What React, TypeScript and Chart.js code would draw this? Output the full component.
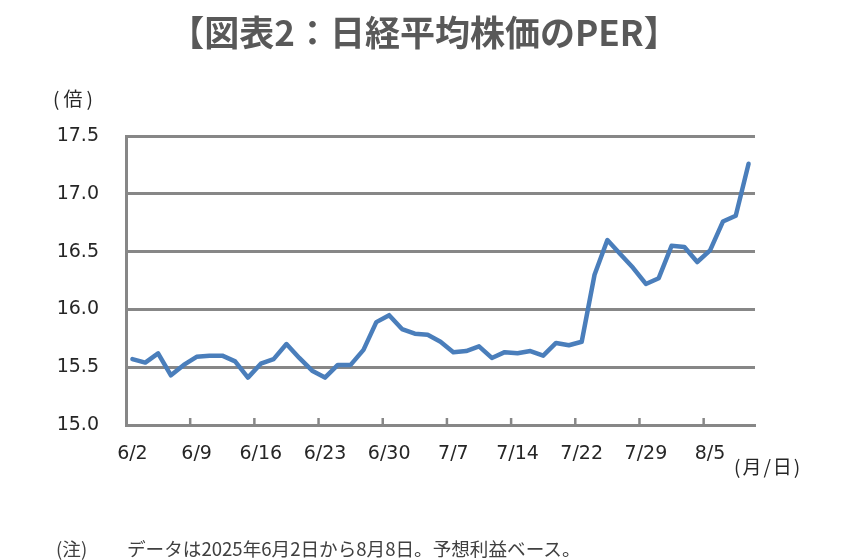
import React, { useEffect, useRef } from "react";
import { Chart, registerables } from "chart.js";

Chart.register(...registerables);

// Trading days, 2025/6/2 – 8/8 (7/21 holiday)
const dates: string[] = [
  "6/2", "6/3", "6/4", "6/5", "6/6",
  "6/9", "6/10", "6/11", "6/12", "6/13",
  "6/16", "6/17", "6/18", "6/19", "6/20",
  "6/23", "6/24", "6/25", "6/26", "6/27",
  "6/30", "7/1", "7/2", "7/3", "7/4",
  "7/7", "7/8", "7/9", "7/10", "7/11",
  "7/14", "7/15", "7/16", "7/17", "7/18",
  "7/22", "7/23", "7/24", "7/25", "7/28",
  "7/29", "7/30", "7/31", "8/1", "8/4",
  "8/5", "8/6", "8/7", "8/8",
];

// Nikkei 225 forward PER (times)
const perValues: number[] = [
  15.57, 15.54, 15.62, 15.43, 15.52,
  15.59, 15.6, 15.6, 15.55, 15.41,
  15.53, 15.57, 15.7, 15.58, 15.47,
  15.41, 15.52, 15.52, 15.65, 15.89,
  15.95, 15.83, 15.79, 15.78, 15.72,
  15.63, 15.64, 15.68, 15.58, 15.63,
  15.62, 15.64, 15.6, 15.71, 15.69,
  15.72, 16.3, 16.6, 16.48, 16.36,
  16.22, 16.27, 16.55, 16.54, 16.41,
  16.51, 16.76, 16.81, 17.26,
];

const labelEvery = 5;
const yMin = 15.0;
const yMax = 17.5;
const yStep = 0.5;

const titleText = "【図表2：日経平均株価のPER】";
const yUnit = "(倍)";
const xUnit = "(月/日)";
const noteLabel = "(注)";
const noteText = "データは2025年6月2日から8月8日。予想利益ベース。";

const GRID = "#878787";
const LINE = "#4a7ebb";
const TEXT = "#262626";
const LATIN = "'DejaVu Sans', Verdana, sans-serif";
const CJK = "'Noto Sans CJK JP', 'Noto Sans', sans-serif";

const innerTicks = {
  id: "innerTicks",
  beforeDatasetsDraw(chart: any) {
    const xs = chart.scales.x;
    const ys = chart.scales.y;
    const ctx = chart.ctx;
    const step = xs.getPixelForValue(1) - xs.getPixelForValue(0);
    ctx.save();
    ctx.strokeStyle = GRID;
    ctx.lineWidth = 2.5;
    for (let i = labelEvery; i < dates.length; i += labelEvery) {
      const x = xs.getPixelForValue(i) - step / 2;
      ctx.beginPath();
      ctx.moveTo(x, ys.bottom);
      ctx.lineTo(x, ys.bottom - 7);
      ctx.stroke();
    }
    ctx.restore();
  },
};

export default function App() {
  const ref = useRef<HTMLCanvasElement | null>(null);

  useEffect(() => {
    if (!ref.current) return;
    const chart = new Chart(ref.current, {
      type: "line",
      data: {
        labels: dates,
        datasets: [
          {
            data: perValues,
            borderColor: LINE,
            borderWidth: 4.5,
            pointRadius: 0,
            tension: 0,
            borderJoinStyle: "round",
            borderCapStyle: "round",
            fill: false,
          },
        ],
      },
      options: {
        responsive: false,
        animation: false,
        layout: { padding: { left: 0, right: 89, top: 136, bottom: 85 } },
        plugins: {
          legend: { display: false },
          tooltip: { enabled: false },
          title: { display: false },
        },
        scales: {
          x: {
            type: "category",
            offset: true,
            grid: { display: true, offset: true, drawOnChartArea: false, drawTicks: false },
            border: { display: true, color: GRID, width: 3 },
            ticks: {
              autoSkip: false,
              maxRotation: 0,
              minRotation: 0,
              padding: 18,
              color: TEXT,
              font: { family: LATIN, size: 19 },
              callback: (_v: any, i: number) => (i % labelEvery === 0 ? dates[i] : ""),
            },
            afterFit: (s: any) => {
              s.height = 50;
            },
          },
          y: {
            min: yMin,
            max: yMax,
            grid: { color: GRID, lineWidth: 3, drawTicks: false },
            border: { display: true, color: GRID, width: 3 },
            ticks: {
              stepSize: yStep,
              padding: 27,
              color: TEXT,
              font: { family: LATIN, size: 19 },
              callback: (v: any) => Number(v).toFixed(1),
            },
            afterFit: (s: any) => {
              s.width = 126;
            },
          },
        },
      },
      plugins: [innerTicks],
    } as any);
    return () => chart.destroy();
  }, []);

  return (
    <div
      style={{
        position: "fixed",
        left: 0,
        top: 0,
        width: 844,
        height: 560,
        background: "#fff",
        overflow: "hidden",
      }}
    >
      <canvas ref={ref} width={844} height={560} style={{ position: "absolute", left: 0, top: 0 }} />
      <div
        style={{
          position: "absolute",
          left: 0,
          top: 10,
          width: 848,
          textAlign: "center",
          fontFamily: CJK,
          fontSize: 35,
          fontWeight: "bold",
          color: "#595959",
          lineHeight: "42px",
          whiteSpace: "nowrap",
        }}
      >
        {titleText}
      </div>
      <div style={{ position: "absolute", left: 53, top: 85, fontFamily: CJK, fontSize: 19, color: TEXT, lineHeight: "26px", letterSpacing: "4px" }}>
        {yUnit}
      </div>
      <div style={{ position: "absolute", left: 734, top: 453, fontFamily: CJK, fontSize: 19, color: TEXT, lineHeight: "26px", letterSpacing: "2px" }}>
        {xUnit}
      </div>
      <div style={{ position: "absolute", left: 56, top: 535, fontFamily: CJK, fontSize: 18.6, color: "#404040", lineHeight: "26px", whiteSpace: "nowrap" }}>
        <span>{noteLabel}</span>
        <span style={{ position: "absolute", left: 71 }}>{noteText}</span>
      </div>
    </div>
  );
}
